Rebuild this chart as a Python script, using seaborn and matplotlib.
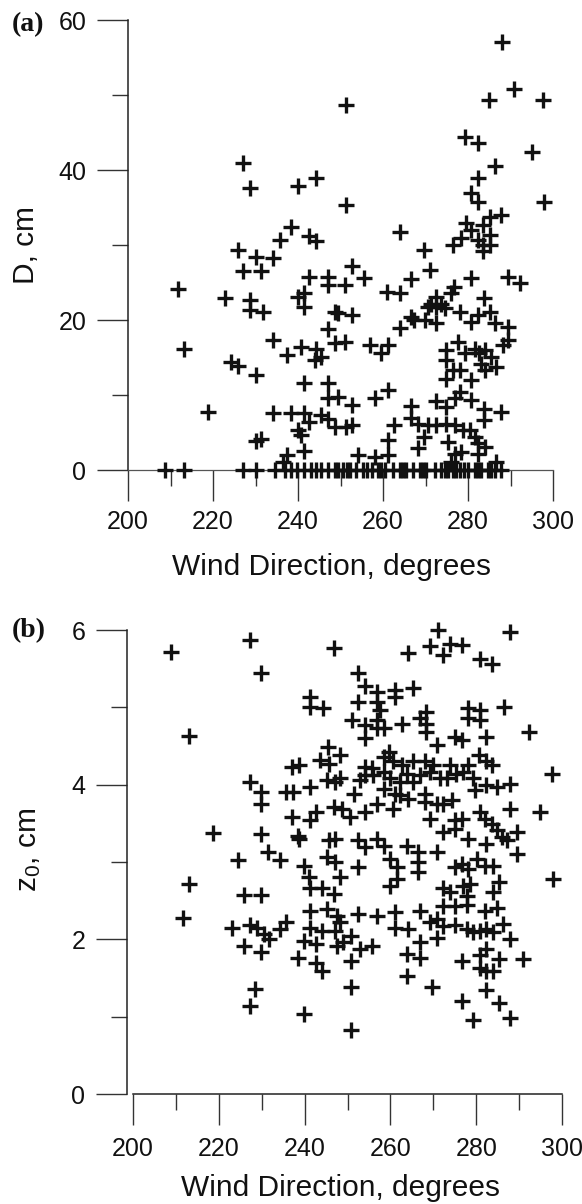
import matplotlib
matplotlib.use("Agg")
import matplotlib.pyplot as plt
import seaborn as sns

# ---- panel (a): snow depth D versus wind direction ----
wind_a = [
    287.9, 290.8, 285.0, 297.7, 251.3, 279.4, 282.3, 295.0, 286.4,
    282.4, 280.8, 282.4, 297.8, 251.4, 287.8, 285.1, 279.5, 283.5, 280.8,
    285.1, 278.4, 276.5, 282.4, 283.5, 285.1, 263.9, 269.6, 283.5, 252.7,
    271.0, 251.1, 255.5, 280.8, 289.4, 292.2, 266.7, 261.0, 263.9, 276.7,
    276.1, 272.5, 271.4, 273.7, 272.5, 274.5, 270.6, 278.0, 283.8, 285.1,
    282.4, 280.8, 286.3, 289.4, 289.4, 288.2, 252.7, 249.4, 266.7, 267.3,
    269.8, 272.5, 263.9, 251.1, 257.0, 261.2, 259.5, 274.9, 274.9, 277.6,
    279.2, 281.6, 282.7, 283.9, 285.5, 286.7, 283.1, 283.9, 276.5, 278.0,
    274.9, 280.8, 261.2, 258.2, 249.4, 252.7, 266.7, 272.5, 274.9, 276.9,
    278.0, 280.8, 283.8, 287.8, 251.4, 252.7, 262.7, 266.5, 268.2, 270.6,
    272.5, 274.9, 276.9, 278.8, 280.4, 281.6, 283.8, 261.2, 269.6, 268.2,
    275.3, 276.9, 278.4, 282.4, 283.9, 282.4, 254.1, 258.2, 261.2, 286.7,
    276.1,
    227.1, 228.6, 240.0, 244.3, 238.4, 235.7, 242.7, 244.3, 225.9, 230.2,
    234.1, 227.1, 231.4, 242.7, 247.1, 247.1, 211.8, 222.9, 228.6, 228.6,
    231.8, 240.0, 241.4, 241.4, 248.6, 247.1, 213.2, 234.1, 237.3, 240.8,
    244.3, 245.5, 243.9, 248.6, 224.3, 225.9, 230.2, 241.4, 247.1, 247.1,
    218.8, 234.1, 238.4, 241.4, 242.7, 245.5, 247.1, 248.6, 240.0, 240.8,
    230.2, 231.4, 241.4, 237.3, 236.5,
    208.8, 213.2, 227.1, 230.2, 234.6, 236.9, 238.4, 241.4, 244.3, 245.5,
    247.1, 248.6, 250.6, 252.2, 253.7, 255.3, 257.3, 258.8, 260.4, 262.4,
    263.9, 265.5, 267.1, 268.6, 270.2, 272.2, 273.7, 275.3, 276.5, 278.0,
    280.0, 281.6, 283.1, 284.7, 286.3, 287.8, 239.7, 243.0, 249.5, 251.5,
    256.2, 259.6, 264.7, 269.4, 274.5, 277.2, 279.1, 282.3, 285.5,
]
d_a = [
    57.1, 50.8, 49.4, 49.4, 48.7, 44.4, 43.6, 42.4, 40.6,
    38.9, 37.0, 35.8, 35.8, 35.3, 34.0, 33.7, 33.0, 32.7, 32.0,
    31.3, 30.9, 30.0, 30.7, 30.0, 30.0, 31.8, 29.4, 29.2, 27.2,
    26.7, 24.7, 25.6, 25.6, 25.8, 25.0, 25.5, 23.8, 23.6, 24.4,
    23.6, 23.1, 22.2, 22.2, 21.8, 21.6, 21.8, 21.1, 22.9, 21.1,
    20.7, 19.8, 19.6, 19.1, 17.3, 16.7, 20.7, 20.9, 20.4, 20.0,
    20.0, 19.6, 18.9, 17.1, 16.7, 16.7, 15.6, 16.0, 14.7, 17.1,
    15.6, 16.2, 15.6, 16.0, 15.1, 13.8, 14.2, 13.3, 13.3, 13.3,
    12.2, 12.0, 10.7, 9.6, 9.8, 8.7, 8.5, 9.2, 8.4, 9.6,
    10.4, 9.3, 8.2, 7.8, 5.8, 6.0, 6.0, 6.9, 6.2, 6.0,
    6.0, 6.2, 6.0, 5.3, 5.3, 4.4, 6.7, 4.0, 4.4, 2.9,
    3.8, 2.2, 2.4, 3.6, 3.1, 2.2, 2.0, 1.8, 2.0, 1.1,
    1.1,
    40.9, 37.6, 37.9, 38.9, 32.4, 30.7, 31.2, 30.5, 29.3, 28.4,
    28.3, 26.5, 26.5, 25.7, 25.7, 24.7, 24.1, 23.0, 22.7, 21.3,
    21.1, 23.1, 23.6, 21.8, 21.1, 18.8, 16.1, 17.3, 15.4, 16.4,
    16.1, 15.1, 14.7, 16.9, 14.4, 13.9, 12.7, 11.6, 11.6, 9.6,
    7.7, 7.6, 7.6, 7.6, 6.4, 7.4, 6.8, 5.8, 5.4, 4.7,
    3.9, 4.2, 2.5, 2.0, 1.1,
    0, 0, 0, 0, 0, 0, 0, 0, 0, 0,
    0, 0, 0, 0, 0, 0, 0, 0, 0, 0,
    0, 0, 0, 0, 0, 0, 0, 0, 0, 0,
    0, 0, 0, 0, 0, 0, 0, 0, 0, 0,
    0, 0, 0, 0, 0, 0, 0, 0, 0,
]

# ---- panel (b): roughness length z0 versus wind direction ----
wind_b = [
    271.0, 287.9,
    227.2, 208.9, 246.9, 229.9, 241.2, 241.2, 244.2, 213.1, 245.5, 248.3,
    243.7, 245.6, 237.1, 238.6, 245.2, 247.2, 248.3, 227.2, 229.9, 229.9,
    235.7, 237.3, 241.2, 246.8, 248.7, 237.1, 241.2, 242.7, 218.6, 229.9,
    238.4, 238.6, 245.6, 247.2, 245.2, 247.2, 231.4, 234.3, 224.5, 239.8,
    241.0, 248.3, 213.1, 225.8, 229.9, 241.2, 244.1, 246.9, 211.7, 241.2,
    245.2, 247.5, 248.3, 223.1, 227.2, 228.9, 230.5, 231.6, 234.3, 235.7,
    241.3, 244.1, 247.2, 225.8, 229.9, 239.8, 242.7, 247.5, 238.4, 242.7,
    244.1, 228.5, 227.2, 239.8,
    264.0, 269.2, 272.3, 273.9, 276.6, 280.9, 283.6,
    252.5, 254.1, 256.8, 261.1, 261.1, 265.3, 252.5, 256.8, 257.6, 251.0,
    254.1, 256.8, 256.8, 254.1, 258.4, 262.6, 266.9, 268.3, 268.3, 268.3,
    278.2, 280.9, 278.2, 280.9, 286.5, 292.2, 270.8, 275.1, 276.6, 282.3,
    259.7, 258.4, 260.7, 262.6, 265.3, 268.1, 270.0, 273.9, 278.2, 280.7,
    282.4, 283.6, 297.6, 254.1, 255.6, 254.1, 252.9, 256.0, 258.4, 259.9,
    262.2, 263.8, 265.3, 266.9, 269.2, 271.6, 273.1, 275.4, 277.0, 279.3,
    279.7, 282.4, 284.8, 287.9, 251.4, 258.4, 261.1, 262.2, 264.2, 268.1,
    268.1, 270.8, 272.3, 274.3, 260.7, 256.8, 250.6, 254.1, 269.2, 275.1,
    276.6, 280.9, 287.9, 294.9, 282.0, 283.6, 284.8, 285.9, 287.1, 289.4,
    272.3, 275.1, 278.2, 252.5, 254.1, 256.8, 258.4, 263.8, 266.5, 270.8,
    282.4, 289.4, 252.5, 259.9, 261.5, 266.5, 266.5, 275.1, 276.6, 278.2,
    280.1, 282.0, 284.0, 259.9, 261.5, 272.3, 273.9, 277.0, 278.6, 277.8,
    284.0, 285.2, 297.8, 272.3, 275.1, 277.8, 282.0, 284.8, 252.5, 256.8,
    261.1, 266.9, 261.1, 264.2, 269.2, 270.8, 272.3, 275.1, 277.8, 279.3,
    280.9, 282.4, 284.0, 286.3, 287.9, 270.8, 250.9, 249.0, 252.9, 255.6,
    250.9, 263.8, 266.9, 266.9, 276.6, 280.9, 282.4, 285.2, 290.8, 280.9,
    282.4, 284.0, 263.8, 269.6, 250.9, 282.3, 276.6, 285.2, 279.3, 287.9,
    250.9,
]
z0_b = [
    6.00, 5.97,
    5.87, 5.72, 5.77, 5.45, 5.14, 5.00, 4.99, 4.63, 4.49, 4.38,
    4.32, 4.27, 4.23, 4.26, 4.06, 4.04, 4.08, 4.03, 3.91, 3.75,
    3.90, 3.90, 3.97, 3.71, 3.69, 3.58, 3.54, 3.65, 3.38, 3.36,
    3.34, 3.30, 3.28, 3.30, 3.06, 3.00, 3.13, 3.03, 3.02, 2.95,
    2.81, 2.81, 2.72, 2.57, 2.57, 2.67, 2.67, 2.58, 2.27, 2.37,
    2.39, 2.30, 2.22, 2.15, 2.19, 2.15, 2.07, 2.00, 2.13, 2.22,
    2.15, 2.11, 2.11, 1.91, 1.83, 1.98, 1.94, 1.92, 1.76, 1.70,
    1.59, 1.36, 1.14, 1.03,
    5.70, 5.79, 5.68, 5.82, 5.81, 5.63, 5.56,
    5.44, 5.27, 5.20, 5.22, 5.13, 5.25, 5.07, 5.07, 4.97, 4.84,
    4.77, 4.84, 4.73, 4.60, 4.73, 4.79, 4.86, 4.94, 4.79, 4.68,
    4.99, 4.97, 4.86, 4.84, 5.01, 4.68, 4.51, 4.62, 4.58, 4.61,
    4.42, 4.36, 4.30, 4.25, 4.30, 4.30, 4.25, 4.26, 4.25, 4.38,
    4.30, 4.25, 4.14, 4.23, 4.21, 4.12, 4.06, 4.12, 4.17, 4.08,
    4.03, 4.14, 4.03, 4.12, 4.17, 4.08, 4.08, 4.14, 4.17, 4.08,
    3.93, 4.00, 3.97, 4.01, 3.88, 3.95, 3.88, 3.86, 3.82, 3.88,
    3.78, 3.75, 3.75, 3.80, 3.69, 3.75, 3.58, 3.65, 3.56, 3.54,
    3.56, 3.65, 3.69, 3.65, 3.56, 3.49, 3.41, 3.32, 3.28, 3.39,
    3.39, 3.43, 3.30, 3.28, 3.19, 3.30, 3.21, 3.21, 3.13, 3.13,
    3.23, 3.10, 2.93, 3.04, 2.93, 3.00, 2.87, 2.93, 2.97, 2.91,
    3.04, 2.95, 2.95, 2.69, 2.78, 2.67, 2.61, 2.69, 2.71, 2.56,
    2.61, 2.74, 2.78, 2.43, 2.43, 2.45, 2.37, 2.41, 2.33, 2.30,
    2.35, 2.37, 2.15, 2.14, 2.22, 2.26, 2.17, 2.19, 2.13, 2.09,
    2.11, 2.13, 2.09, 2.20, 2.00, 2.02, 2.04, 1.96, 1.87, 1.91,
    1.72, 1.81, 1.96, 1.76, 1.72, 1.80, 1.87, 1.74, 1.74, 1.63,
    1.59, 1.59, 1.52, 1.39, 1.38, 1.35, 1.20, 1.18, 0.96, 0.98,
    0.83,
]

x_major = [200, 220, 240, 260, 280, 300]
x_minor = [210, 230, 250, 270, 290]
ya_major = [0, 20, 40, 60]
ya_minor = [10, 30, 50]
yb_major = [0, 2, 4, 6]
yb_minor = [1, 3, 5]

sns.set_theme(style="ticks")
plt.rcParams["font.family"] = ["Liberation Sans", "DejaVu Sans"]
plt.rcParams["mathtext.fontset"] = "custom"
plt.rcParams["mathtext.rm"] = "Liberation Sans"
plt.rcParams["mathtext.it"] = "Liberation Sans"

W, H = 582, 1204
fig = plt.figure(figsize=(W / 100, H / 100), dpi=100)
fig.patch.set_facecolor("white")

ax1 = fig.add_axes([128 / W, 1 - 470 / H, 425 / W, 450 / H])
ax2 = fig.add_axes([127 / W, 1 - 1094 / H, 435 / W, 464 / H])

mark = dict(marker="+", color="#111111", s=118, linewidth=2.4, clip_on=False, zorder=3)
sns.scatterplot(x=wind_a, y=d_a, ax=ax1, **mark)
sns.scatterplot(x=wind_b, y=z0_b, ax=ax2, **mark)

tick_font = 18
label_font = 21.5

for ax, ymaj, ymin, ylim in [
    (ax1, ya_major, ya_minor, (0, 60)),
    (ax2, yb_major, yb_minor, (0, 6)),
]:
    ax.set_facecolor("white")
    ax.set_ylim(*ylim)
    ax.set_xticks(x_major)
    ax.set_xticks(x_minor, minor=True)
    ax.set_yticks(ymaj)
    ax.set_yticks(ymin, minor=True)
    ax.spines["top"].set_visible(False)
    ax.spines["right"].set_visible(False)
    ax.spines["left"].set_color("#222222")
    ax.spines["left"].set_linewidth(1.1)
    ax.tick_params(which="major", direction="out", length=22, width=1.0,
                   color="#333333", labelsize=tick_font, labelcolor="#111111")
    ax.tick_params(which="minor", direction="out", length=11.5, width=1.0,
                   color="#333333")
    ax.tick_params(axis="y", which="major", pad=8)
    ax.tick_params(axis="x", which="major", pad=7)
    ax.set_xlabel("Wind Direction, degrees", fontsize=label_font, color="#111111")

# panel (a): x axis drawn along D = 0
ax1.set_xlim(200, 300)
ax1.spines["bottom"].set_color("#555555")
ax1.spines["bottom"].set_linewidth(0.9)
ax1.set_ylabel("D, cm", fontsize=label_font, color="#111111")
ax1.yaxis.set_label_coords((40 - 128) / 425, 0.5)
ax1.xaxis.set_label_coords(0.48, (470 - 553) / 450)

# panel (b): x axis starts just right of the y axis
ax2.set_xlim(198.6, 300)
ax2.spines["bottom"].set_bounds(200, 300)
ax2.spines["bottom"].set_color("#222222")
ax2.spines["bottom"].set_linewidth(1.1)
ax2.tick_params(axis="x", which="major", pad=9)
ax2.set_ylabel(r"$\mathregular{z_0}$, cm", fontsize=label_font, color="#111111")
ax2.yaxis.set_label_coords((43 - 127) / 435, (1094 - 850) / 464)
ax2.xaxis.set_label_coords(0.49, (1094 - 1174) / 464)

panel_font = dict(family=["Liberation Serif", "DejaVu Serif"], fontweight="bold",
                  fontsize=20, color="#111111", ha="left", va="center")
fig.text(12 / W, 1 - 25 / H, "(a)", **panel_font)
fig.text(12 / W, 1 - 631 / H, "(b)", **panel_font)

fig.savefig("out.png", dpi=100, facecolor="white")
